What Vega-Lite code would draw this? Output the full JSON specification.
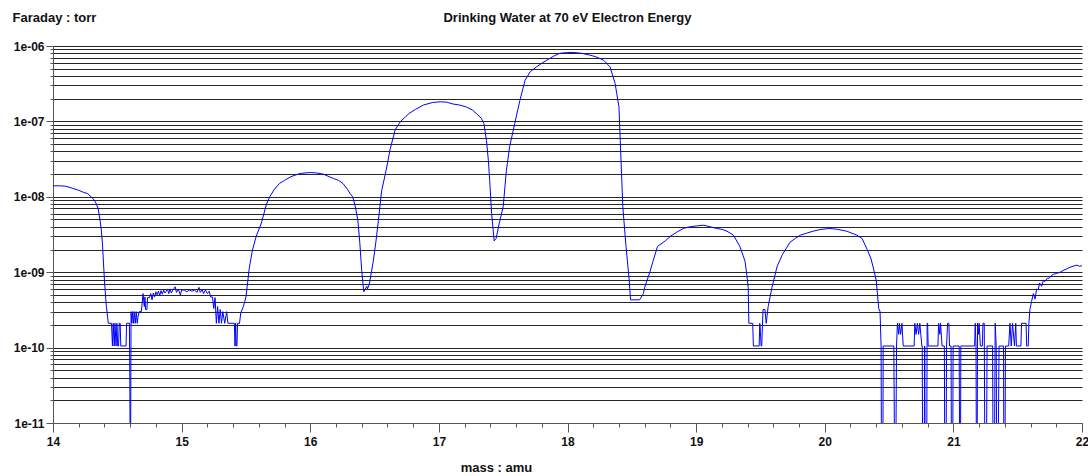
{
  "$schema": "https://vega.github.io/schema/vega-lite/v6.json",
  "autosize": {"type": "none"},
  "padding": {"left": 53, "top": 46, "right": 6, "bottom": 53},
  "width": 1029,
  "height": 377,
  "background": "white",
  "title": {"text": "Drinking Water at 70 eV Electron Energy", "anchor": "middle", "font": "Liberation Sans", "fontSize": 13, "fontWeight": "bold", "color": "#111", "offset": -14},
  "config": {"view": {"stroke": null}},
  "data": {"values": [
    {"m":14.00,"v":1.40e-8},{"m":14.05,"v":1.40e-8},{"m":14.10,"v":1.38e-8},{"m":14.15,"v":1.30e-8},{"m":14.20,"v":1.22e-8},{"m":14.23,"v":1.16e-8},{"m":14.27,"v":1.10e-8},{"m":14.31,"v":9.5e-9},{"m":14.33,"v":8.5e-9},{"m":14.35,"v":7.1e-9},{"m":14.365,"v":5.0e-9},{"m":14.376,"v":3.6e-9},{"m":14.385,"v":2.3e-9},{"m":14.39,"v":1.6e-9},{"m":14.40,"v":7.8e-10},{"m":14.41,"v":4.5e-10},{"m":14.415,"v":3.5e-10},{"m":14.425,"v":2.5e-10},{"m":14.43,"v":2.1e-10},
    {"m":14.455,"v":2.1e-10},{"m":14.462,"v":1.05e-10},{"m":14.468,"v":2.1e-10},{"m":14.476,"v":1.05e-10},{"m":14.482,"v":2.1e-10},{"m":14.49,"v":1.05e-10},{"m":14.497,"v":2.1e-10},{"m":14.503,"v":1.05e-10},{"m":14.51,"v":1.05e-10},{"m":14.515,"v":2.1e-10},{"m":14.522,"v":2.1e-10},{"m":14.527,"v":1.05e-10},{"m":14.568,"v":1.05e-10},{"m":14.572,"v":2.1e-10},{"m":14.594,"v":2.1e-10},{"m":14.597,"v":5e-11},{"m":14.602,"v":1e-12},{"m":14.607,"v":3.0e-10},
    {"m":14.613,"v":2.1e-10},{"m":14.62,"v":3.0e-10},{"m":14.627,"v":2.1e-10},{"m":14.633,"v":3.0e-10},{"m":14.64,"v":2.1e-10},{"m":14.647,"v":3.0e-10},{"m":14.655,"v":2.1e-10},{"m":14.66,"v":2.5e-10},{"m":14.67,"v":3.0e-10},{"m":14.687,"v":3.0e-10},{"m":14.70,"v":5.2e-10},{"m":14.71,"v":3.5e-10},{"m":14.715,"v":4.7e-10},{"m":14.72,"v":3.2e-10},{"m":14.73,"v":3.2e-10},{"m":14.735,"v":4.6e-10},{"m":14.75,"v":4.6e-10},{"m":14.76,"v":5.2e-10},{"m":14.77,"v":4.3e-10},{"m":14.78,"v":5.3e-10},{"m":14.79,"v":4.7e-10},{"m":14.80,"v":5.5e-10},{"m":14.81,"v":5.0e-10},{"m":14.82,"v":5.6e-10},{"m":14.83,"v":4.9e-10},{"m":14.84,"v":5.7e-10},{"m":14.85,"v":5.1e-10},{"m":14.86,"v":5.8e-10},{"m":14.87,"v":5.3e-10},{"m":14.88,"v":5.6e-10},{"m":14.89,"v":6.0e-10},{"m":14.90,"v":5.2e-10},{"m":14.91,"v":6.0e-10},{"m":14.92,"v":5.3e-10},{"m":14.935,"v":5.9e-10},{"m":14.95,"v":6.4e-10},{"m":14.96,"v":5.4e-10},{"m":14.975,"v":5.9e-10},{"m":14.99,"v":5.0e-10},{"m":15.00,"v":5.8e-10},{"m":15.02,"v":5.8e-10},{"m":15.04,"v":5.5e-10},{"m":15.06,"v":5.8e-10},{"m":15.08,"v":5.6e-10},{"m":15.10,"v":5.8e-10},{"m":15.12,"v":5.4e-10},{"m":15.135,"v":6.3e-10},{"m":15.145,"v":5.4e-10},{"m":15.16,"v":5.9e-10},{"m":15.17,"v":5.2e-10},{"m":15.185,"v":5.8e-10},{"m":15.20,"v":5.2e-10},{"m":15.215,"v":5.6e-10},{"m":15.225,"v":4.7e-10},{"m":15.24,"v":4.7e-10},{"m":15.25,"v":3.3e-10},{"m":15.26,"v":4.6e-10},{"m":15.27,"v":2.1e-10},{"m":15.28,"v":3.5e-10},{"m":15.29,"v":2.1e-10},{"m":15.30,"v":3.2e-10},{"m":15.31,"v":2.1e-10},{"m":15.32,"v":3.0e-10},{"m":15.335,"v":2.1e-10},{"m":15.35,"v":3.0e-10},{"m":15.36,"v":2.1e-10},{"m":15.41,"v":2.1e-10},{"m":15.415,"v":1.05e-10},{"m":15.42,"v":2.1e-10},{"m":15.425,"v":1.05e-10},{"m":15.43,"v":1.05e-10},{"m":15.435,"v":2.1e-10},{"m":15.45,"v":2.1e-10},{"m":15.46,"v":2.9e-10},{"m":15.48,"v":3.5e-10},{"m":15.50,"v":4.7e-10},{"m":15.51,"v":6.5e-10},{"m":15.525,"v":1.1e-9},{"m":15.55,"v":1.95e-9},{"m":15.58,"v":3.0e-9},{"m":15.62,"v":4.5e-9},{"m":15.66,"v":8.0e-9},{"m":15.685,"v":1.0e-8},{"m":15.72,"v":1.25e-8},{"m":15.76,"v":1.5e-8},{"m":15.80,"v":1.65e-8},{"m":15.85,"v":1.85e-8},{"m":15.92,"v":2.04e-8},{"m":16.00,"v":2.1e-8},{"m":16.05,"v":2.07e-8},{"m":16.10,"v":2.0e-8},{"m":16.18,"v":1.75e-8},{"m":16.22,"v":1.65e-8},{"m":16.255,"v":1.5e-8},{"m":16.29,"v":1.25e-8},{"m":16.31,"v":1.1e-8},{"m":16.33,"v":1.0e-8},{"m":16.35,"v":7.5e-9},{"m":16.37,"v":4.9e-9},{"m":16.385,"v":2.5e-9},{"m":16.40,"v":1.06e-9},{"m":16.41,"v":7.0e-10},{"m":16.416,"v":5.5e-10},{"m":16.44,"v":6.5e-10},{"m":16.445,"v":6.0e-10},{"m":16.46,"v":7.0e-10},{"m":16.475,"v":1.0e-9},{"m":16.49,"v":1.4e-9},{"m":16.51,"v":2.5e-9},{"m":16.53,"v":4.9e-9},{"m":16.555,"v":1.2e-8},{"m":16.59,"v":2.25e-8},{"m":16.62,"v":4.2e-8},{"m":16.66,"v":7.7e-8},{"m":16.70,"v":9.9e-8},{"m":16.74,"v":1.15e-7},{"m":16.77,"v":1.28e-7},{"m":16.82,"v":1.45e-7},{"m":16.88,"v":1.65e-7},{"m":16.95,"v":1.78e-7},{"m":17.01,"v":1.82e-7},{"m":17.06,"v":1.8e-7},{"m":17.11,"v":1.7e-7},{"m":17.16,"v":1.65e-7},{"m":17.21,"v":1.56e-7},{"m":17.26,"v":1.42e-7},{"m":17.29,"v":1.28e-7},{"m":17.33,"v":1.1e-7},{"m":17.35,"v":9.4e-8},{"m":17.37,"v":5.6e-8},{"m":17.385,"v":3.0e-8},{"m":17.395,"v":1.65e-8},{"m":17.41,"v":6.0e-9},{"m":17.43,"v":2.6e-9},{"m":17.445,"v":2.8e-9},{"m":17.47,"v":4.5e-9},{"m":17.50,"v":7.4e-9},{"m":17.525,"v":2.25e-8},{"m":17.55,"v":4.6e-8},{"m":17.59,"v":9.4e-8},{"m":17.63,"v":1.9e-7},{"m":17.67,"v":3.5e-7},{"m":17.71,"v":4.56e-7},{"m":17.76,"v":5.3e-7},{"m":17.80,"v":5.9e-7},{"m":17.84,"v":6.5e-7},{"m":17.89,"v":7.3e-7},{"m":17.94,"v":8.0e-7},{"m":18.00,"v":8.2e-7},{"m":18.05,"v":8.2e-7},{"m":18.11,"v":8.0e-7},{"m":18.17,"v":7.6e-7},{"m":18.22,"v":7.2e-7},{"m":18.28,"v":6.5e-7},{"m":18.33,"v":5.3e-7},{"m":18.37,"v":3.2e-7},{"m":18.40,"v":1.56e-7},{"m":18.41,"v":5.6e-8},{"m":18.42,"v":2.06e-8},{"m":18.43,"v":7.4e-9},{"m":18.455,"v":2.2e-9},{"m":18.48,"v":7.8e-10},{"m":18.49,"v":4.3e-10},{"m":18.56,"v":4.3e-10},{"m":18.59,"v":5.2e-10},{"m":18.60,"v":6.3e-10},{"m":18.64,"v":1.0e-9},{"m":18.665,"v":1.4e-9},{"m":18.70,"v":2.2e-9},{"m":18.76,"v":2.6e-9},{"m":18.80,"v":3.0e-9},{"m":18.85,"v":3.4e-9},{"m":18.90,"v":3.8e-9},{"m":18.95,"v":4.0e-9},{"m":19.00,"v":4.1e-9},{"m":19.06,"v":4.2e-9},{"m":19.11,"v":4.0e-9},{"m":19.16,"v":3.8e-9},{"m":19.20,"v":3.7e-9},{"m":19.24,"v":3.5e-9},{"m":19.29,"v":3.1e-9},{"m":19.34,"v":2.2e-9},{"m":19.38,"v":1.4e-9},{"m":19.395,"v":9.0e-10},{"m":19.405,"v":6.3e-10},{"m":19.41,"v":2.1e-10},{"m":19.44,"v":2.1e-10},{"m":19.445,"v":1.05e-10},{"m":19.49,"v":1.05e-10},{"m":19.495,"v":2.1e-10},{"m":19.50,"v":1.6e-10},{"m":19.505,"v":1.05e-10},{"m":19.51,"v":1.05e-10},{"m":19.52,"v":3.2e-10},{"m":19.535,"v":3.2e-10},{"m":19.545,"v":2.1e-10},{"m":19.56,"v":3.5e-10},{"m":19.59,"v":6.3e-10},{"m":19.63,"v":1.2e-9},{"m":19.67,"v":1.7e-9},{"m":19.73,"v":2.5e-9},{"m":19.77,"v":2.8e-9},{"m":19.81,"v":3.1e-9},{"m":19.86,"v":3.3e-9},{"m":19.91,"v":3.5e-9},{"m":19.97,"v":3.7e-9},{"m":20.04,"v":3.8e-9},{"m":20.10,"v":3.7e-9},{"m":20.17,"v":3.5e-9},{"m":20.25,"v":3.1e-9},{"m":20.29,"v":2.8e-9},{"m":20.33,"v":2.0e-9},{"m":20.36,"v":1.5e-9},{"m":20.38,"v":1.1e-9},{"m":20.40,"v":7.8e-10},{"m":20.42,"v":3.3e-10},{"m":20.43,"v":3.0e-10},{"m":20.438,"v":1.05e-10},{"m":20.442,"v":1e-12},{"m":20.452,"v":1e-12},{"m":20.454,"v":1.05e-10},{"m":20.537,"v":1.05e-10},{"m":20.545,"v":1e-12},{"m":20.551,"v":1e-12},{"m":20.558,"v":1.05e-10},{"m":20.565,"v":2.1e-10},{"m":20.575,"v":1.5e-10},{"m":20.58,"v":2.1e-10},{"m":20.59,"v":1.5e-10},{"m":20.60,"v":2.1e-10},{"m":20.61,"v":1.05e-10},{"m":20.695,"v":1.05e-10},{"m":20.70,"v":2.1e-10},{"m":20.71,"v":1.5e-10},{"m":20.72,"v":2.1e-10},{"m":20.73,"v":1.5e-10},{"m":20.739,"v":2.1e-10},{"m":20.755,"v":1.05e-10},{"m":20.758,"v":1.05e-10},{"m":20.762,"v":1e-12},{"m":20.772,"v":1e-12},{"m":20.777,"v":1.05e-10},{"m":20.782,"v":1e-12},{"m":20.792,"v":1e-12},{"m":20.796,"v":2.1e-10},{"m":20.80,"v":2.1e-10},{"m":20.804,"v":1.05e-10},{"m":20.88,"v":1.05e-10},{"m":20.885,"v":2.1e-10},{"m":20.895,"v":1.5e-10},{"m":20.90,"v":2.1e-10},{"m":20.912,"v":1.05e-10},{"m":20.93,"v":1.05e-10},{"m":20.934,"v":1e-12},{"m":20.942,"v":1e-12},{"m":20.947,"v":1.05e-10},{"m":20.955,"v":2.1e-10},{"m":20.965,"v":2.1e-10},{"m":20.97,"v":1.05e-10},{"m":20.982,"v":1.05e-10},{"m":20.986,"v":1e-12},{"m":20.994,"v":1e-12},{"m":20.998,"v":1.05e-10},{"m":21.045,"v":1.05e-10},{"m":21.05,"v":1e-12},{"m":21.055,"v":1e-12},{"m":21.058,"v":1.05e-10},{"m":21.165,"v":1.05e-10},{"m":21.17,"v":2.1e-10},{"m":21.176,"v":1.05e-10},{"m":21.18,"v":1e-12},{"m":21.184,"v":1e-12},{"m":21.188,"v":2.1e-10},{"m":21.195,"v":1.5e-10},{"m":21.20,"v":2.1e-10},{"m":21.21,"v":1.05e-10},{"m":21.225,"v":1.05e-10},{"m":21.23,"v":2.1e-10},{"m":21.24,"v":2.1e-10},{"m":21.246,"v":1e-12},{"m":21.256,"v":1e-12},{"m":21.262,"v":1.05e-10},{"m":21.305,"v":1.05e-10},{"m":21.31,"v":1e-12},{"m":21.318,"v":1e-12},{"m":21.325,"v":2.1e-10},{"m":21.333,"v":1.05e-10},{"m":21.338,"v":1e-12},{"m":21.346,"v":1e-12},{"m":21.355,"v":1.05e-10},{"m":21.39,"v":1.05e-10},{"m":21.393,"v":1e-12},{"m":21.40,"v":1e-12},{"m":21.405,"v":1.05e-10},{"m":21.43,"v":1.05e-10},{"m":21.44,"v":2.1e-10},{"m":21.45,"v":1.05e-10},{"m":21.46,"v":2.1e-10},{"m":21.475,"v":1.05e-10},{"m":21.485,"v":2.1e-10},{"m":21.49,"v":1.05e-10},{"m":21.525,"v":1.05e-10},{"m":21.53,"v":2.1e-10},{"m":21.565,"v":2.1e-10},{"m":21.57,"v":1.05e-10},{"m":21.582,"v":1.05e-10},{"m":21.587,"v":2.1e-10},{"m":21.595,"v":3.2e-10},{"m":21.608,"v":4.1e-10},{"m":21.622,"v":5.2e-10},{"m":21.635,"v":4.4e-10},{"m":21.647,"v":6.0e-10},{"m":21.66,"v":5.8e-10},{"m":21.67,"v":7.2e-10},{"m":21.686,"v":6.5e-10},{"m":21.70,"v":7.8e-10},{"m":21.711,"v":7.5e-10},{"m":21.73,"v":8.3e-10},{"m":21.745,"v":8.3e-10},{"m":21.76,"v":9.0e-10},{"m":21.78,"v":9.4e-10},{"m":21.80,"v":9.6e-10},{"m":21.83,"v":1.0e-9},{"m":21.86,"v":1.07e-9},{"m":21.88,"v":1.1e-9},{"m":21.90,"v":1.15e-9},{"m":21.93,"v":1.2e-9},{"m":21.96,"v":1.24e-9},{"m":21.98,"v":1.2e-9},{"m":22.00,"v":1.22e-9}
  ]},
  "mark": {"type": "line", "color": "#0000ff", "strokeWidth": 1, "clip": true, "interpolate": "linear"},
  "encoding": {
    "x": {
      "field": "m", "type": "quantitative",
      "scale": {"domain": [14, 22], "nice": false, "zero": false},
      "axis": {
        "title": "mass : amu", "titleX": 443, "titleY": 44, "titleAlign": "center", "titleBaseline": "middle",
        "titleFont": "Liberation Sans", "titleFontSize": 13, "titleFontWeight": "bold", "titleColor": "#111",
        "values": [14,14.2,14.4,14.6,14.8,15,15.2,15.4,15.6,15.8,16,16.2,16.4,16.6,16.8,17,17.2,17.4,17.6,17.8,18,18.2,18.4,18.6,18.8,19,19.2,19.4,19.6,19.8,20,20.2,20.4,20.6,20.8,21,21.2,21.4,21.6,21.8,22],
        "labelExpr": "abs(datum.value - round(datum.value)) < 0.01 ? format(datum.value, 'd') : ''",
        "labelOverlap": false, "labelFlush": false,
        "labelFont": "Liberation Sans", "labelFontSize": 12, "labelFontWeight": "bold", "labelColor": "#111", "labelPadding": 4,
        "tickSize": {"condition": {"test": "abs(datum.value - round(datum.value)) < 0.01", "value": 9}, "value": 4},
        "tickColor": "#555", "domainColor": "#555", "grid": false
      }
    },
    "y": {
      "field": "v", "type": "quantitative",
      "scale": {"type": "log", "domain": [1e-11, 1e-6], "nice": false},
      "axis": {
        "title": "Faraday : torr", "titleAngle": 0, "titleAlign": "left", "titleBaseline": "middle", "titleX": -41, "titleY": -29,
        "titleFont": "Liberation Sans", "titleFontSize": 13, "titleFontWeight": "bold", "titleColor": "#111",
        "values": [1e-11,2e-11,3e-11,4e-11,5e-11,6e-11,7e-11,8e-11,9e-11,1e-10,2e-10,3e-10,4e-10,5e-10,6e-10,7e-10,8e-10,9e-10,1e-9,2e-9,3e-9,4e-9,5e-9,6e-9,7e-9,8e-9,9e-9,1e-8,2e-8,3e-8,4e-8,5e-8,6e-8,7e-8,8e-8,9e-8,1e-7,2e-7,3e-7,4e-7,5e-7,6e-7,7e-7,8e-7,9e-7,1e-6],
        "labelExpr": "abs(log(datum.value)/LN10 - round(log(datum.value)/LN10)) < 0.001 ? '1e-' + (abs(round(log(datum.value)/LN10)) < 10 ? '0' : '') + abs(round(log(datum.value)/LN10)) : ''",
        "labelOverlap": false, "labelFlush": false,
        "labelFont": "Liberation Sans", "labelFontSize": 12, "labelFontWeight": "bold", "labelColor": "#111", "labelPadding": 2,
        "tickSize": {"condition": {"test": "abs(log(datum.value)/LN10 - round(log(datum.value)/LN10)) < 0.001", "value": 7}, "value": 3},
        "tickColor": "#555", "domainColor": "#555",
        "grid": true, "gridColor": "#000", "gridOpacity": 0.85, "gridWidth": 1
      }
    }
  }
}
